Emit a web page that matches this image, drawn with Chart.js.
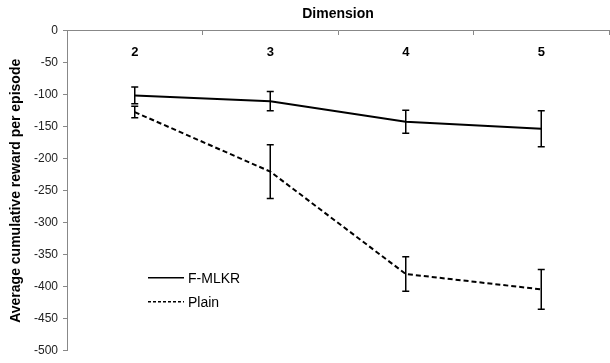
<!DOCTYPE html>
<html>
<head>
<meta charset="utf-8">
<script src="https://cdn.jsdelivr.net/npm/chart.js@4/dist/chart.umd.min.js"></script>
<style>
html,body{margin:0;padding:0;background:#fff;}
#wrap{width:610px;height:363px;position:relative;}
</style>
</head>
<body>
<div id="wrap"><canvas id="c"></canvas></div>
<script>
const categories = ['2', '3', '4', '5'];
const fmlkr = [-101, -110, -142, -153];
const fmlkrErr = [13, 15, 18, 28];
const plain = [-127, -220, -380, -404];
const plainErr = [9, 42, 27, 31];
const yTicks = [0, -50, -100, -150, -200, -250, -300, -350, -400, -450, -500];
const seriesNames = ['F-MLKR', 'Plain'];

const FONT = "'Liberation Sans', Arial, sans-serif";

const errorBars = {
  id: 'errorBars',
  afterDatasetsDraw(chart) {
    const ctx = chart.ctx;
    const x = chart.scales.x, y = chart.scales.y;
    const errs = [fmlkrErr, plainErr];
    ctx.save();
    ctx.strokeStyle = '#000';
    ctx.lineWidth = 1.5;
    chart.data.datasets.forEach((ds, di) => {
      ds.data.forEach((v, i) => {
        const px = x.getPixelForValue(i);
        const top = y.getPixelForValue(v + errs[di][i]);
        const bot = y.getPixelForValue(v - errs[di][i]);
        ctx.beginPath();
        ctx.moveTo(px, top); ctx.lineTo(px, bot);
        ctx.moveTo(px - 3.5, top); ctx.lineTo(px + 3.5, top);
        ctx.moveTo(px - 3.5, bot); ctx.lineTo(px + 3.5, bot);
        ctx.stroke();
      });
    });
    ctx.restore();
  }
};

const innerLegend = {
  id: 'innerLegend',
  afterDraw(chart) {
    const ctx = chart.ctx;
    const a = chart.chartArea;
    const x0 = a.left + 81, x1 = a.left + 117;
    const ys = [a.top + 247, a.top + 271];
    ctx.save();
    ctx.font = "14px " + FONT;
    ctx.fillStyle = '#000';
    ctx.textBaseline = 'middle';
    chart.data.datasets.forEach((ds, i) => {
      ctx.beginPath();
      ctx.strokeStyle = '#000';
      ctx.lineWidth = 1.5;
      ctx.setLineDash(i === 1 ? [3, 2] : []);
      ctx.moveTo(x0, ys[i]); ctx.lineTo(x1, ys[i]);
      ctx.stroke();
      ctx.setLineDash([]);
      ctx.fillText(ds.label, x1 + 4, ys[i] + 1);
    });
    ctx.restore();
  }
};

new Chart(document.getElementById('c'), {
  type: 'line',
  data: {
    labels: categories,
    datasets: [
      { label: seriesNames[0], data: fmlkr, borderColor: '#000', borderWidth: 2, pointRadius: 0, fill: false, tension: 0 },
      { label: seriesNames[1], data: plain, borderColor: '#000', borderWidth: 2, borderDash: [5, 3], pointRadius: 0, fill: false, tension: 0 }
    ]
  },
  options: {
    responsive: true,
    maintainAspectRatio: false,
    animation: false,
    layout: { padding: { left: 0, right: 1, top: 0, bottom: 8 } },
    plugins: {
      legend: { display: false },
      tooltip: { enabled: false },
      title: {
        display: true,
        fullSize: false,
        text: 'Dimension',
        color: '#000',
        font: { family: FONT, size: 14, weight: 'bold' },
        padding: { top: 6, bottom: 8 }
      }
    },
    scales: {
      x: {
        type: 'category',
        position: { y: 0 },
        offset: true,
        grid: { display: true, drawOnChartArea: false, drawTicks: true, tickLength: 4, color: '#888', offset: true },
        border: { display: true, color: '#888', width: 1 },
        ticks: { color: '#000', font: { family: FONT, size: 13, weight: 'bold' }, padding: 10 }
      },
      y: {
        type: 'linear',
        min: -500, max: 0,
        afterBuildTicks(scale) { scale.ticks = yTicks.map(v => ({ value: v })); },
        afterFit(scale) { scale.width = 67; },
        grid: { display: true, drawOnChartArea: false, drawTicks: true, tickLength: 4, color: '#888' },
        border: { display: true, color: '#888', width: 1 },
        ticks: { color: '#222', font: { family: FONT, size: 12 }, padding: 5 },
        title: {
          display: true,
          text: 'Average cumulative reward per episode',
          color: '#000',
          font: { family: FONT, size: 14, weight: 'bold' },
          padding: { top: 8, bottom: 2 }
        }
      }
    }
  },
  plugins: [errorBars, innerLegend]
});
</script>
</body>
</html>
